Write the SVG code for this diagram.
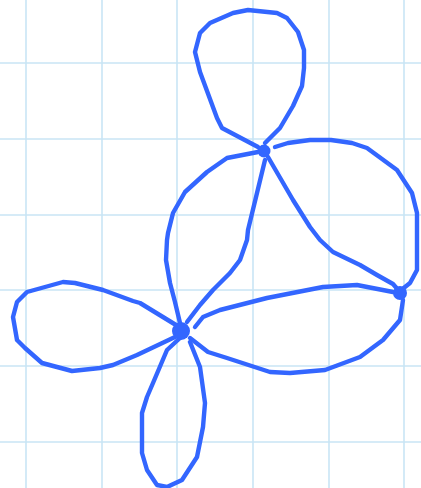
<svg xmlns="http://www.w3.org/2000/svg" width="421" height="488" viewBox="0 0 421 488">
<style>
.grid line{stroke:#c9e5f5;stroke-width:1.6}
.e{fill:none;stroke:#3366ff;stroke-width:4.4;stroke-linecap:round;stroke-linejoin:round}
.n{fill:#3366ff}
</style>
<rect width="421" height="488" fill="#ffffff"/>
<g class="grid">
<line x1="26" y1="0" x2="26" y2="488"/><line x1="102" y1="0" x2="102" y2="488"/><line x1="177" y1="0" x2="177" y2="488"/><line x1="253" y1="0" x2="253" y2="488"/><line x1="329" y1="0" x2="329" y2="488"/><line x1="404" y1="0" x2="404" y2="488"/>
<line x1="0" y1="63" x2="421" y2="63"/><line x1="0" y1="139" x2="421" y2="139"/><line x1="0" y1="215" x2="421" y2="215"/><line x1="0" y1="290" x2="421" y2="290"/><line x1="0" y1="366" x2="421" y2="366"/><line x1="0" y1="442" x2="421" y2="442"/>
</g>
<g id="connectors">
<path class="e" d="M258,147 L222,128 L217,118 L200,72 L195,52 L200,33 L210,23 L233,13 L248,10 L277,13 L287,18 L298,32 L304,50 L304,68 L302,86 L293,106 L280,128 L265,143"/>
<path class="e" d="M275,147 L288,143 L310,140 L331,140 L352,143 L367,148 L397,170 L412,193 L417,213 L417,240 L417,270 L410,283 L400,291"/>
<path class="e" d="M268,157 L293,200 L310,227 L320,240 L333,252 L360,265 L377,275 L393,284 L400,292"/>
<path class="e" d="M265,160 L257,193 L248,230 L247,240 L240,260 L230,273 L213,290 L200,305 L187,322"/>
<path class="e" d="M258,152 L227,158 L207,172 L185,192 L173,213 L168,233 L167,240 L166,260 L170,283 L175,302 L180,323"/>
<path class="e" d="M195,327 L203,317 L220,310 L267,298 L323,287 L357,285 L393,292 L400,293"/>
<path class="e" d="M190,338 L208,352 L227,358 L270,372 L290,373 L325,370 L360,357 L383,340 L400,320 L403,300"/>
<path class="e" d="M176,325 L140,303 L133,301 L103,290 L75,283 L63,282 L27,292 L17,302 L13,317 L17,340 L25,348 L42,363 L72,371 L100,368 L113,365 L137,355 L175,337"/>
<path class="e" d="M180,338 L167,350 L153,383 L147,397 L142,413 L142,453 L147,470 L157,485 L167,487 L182,480 L197,457 L203,427 L205,403 L200,367 L190,342"/>
</g>
<g id="node-a"><circle class="n" cx="264" cy="151" r="6.5"/></g>
<g id="node-b"><circle class="n" cx="181" cy="331" r="9"/></g>
<g id="node-c"><circle class="n" cx="400" cy="293" r="7"/></g>
</svg>
